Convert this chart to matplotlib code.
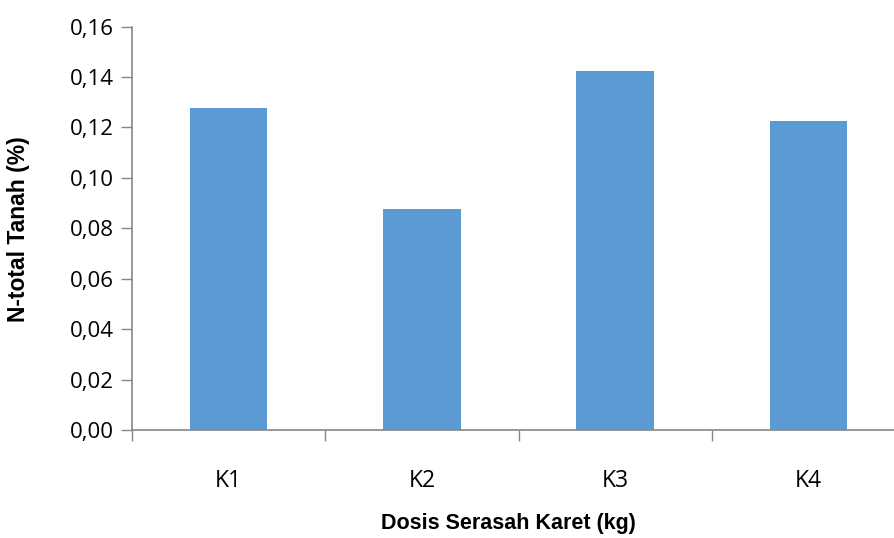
import matplotlib
matplotlib.use("Agg")
import matplotlib.pyplot as plt
from matplotlib.ticker import FixedLocator

categories = ["K1", "K2", "K3", "K4"]
values = [0.1275, 0.0875, 0.1425, 0.1225]
yticks = [0.00, 0.02, 0.04, 0.06, 0.08, 0.10, 0.12, 0.14, 0.16]
ytick_labels = ["0,00", "0,02", "0,04", "0,06", "0,08", "0,10", "0,12", "0,14", "0,16"]

W, H = 895, 538
fig = plt.figure(figsize=(W/100, H/100), dpi=100)
left, right, top, bottom = 132, 905, 26.5, 430
ax = fig.add_axes([left/W, 1-bottom/H, (right-left)/W, (bottom-top)/H])

x = list(range(len(categories)))
ax.bar(x, values, width=0.4, color="#5B9BD5", zorder=2)
ax.set_xlim(-0.5, 3.5)
ax.set_ylim(0, 0.16)

ax.set_yticks(yticks)
ax.set_yticklabels(ytick_labels)
ax.set_xticks(x)
ax.set_xticklabels(categories)
ax.xaxis.set_minor_locator(FixedLocator([-0.5, 0.5, 1.5, 2.5, 3.5]))

for s in ["top", "right"]:
    ax.spines[s].set_visible(False)
for s in ["left", "bottom"]:
    ax.spines[s].set_color("#868686")
    ax.spines[s].set_linewidth(1.2)

tickfont = "Open Sans"
ax.tick_params(axis="y", length=8, width=1, color="#868686", labelsize=16, pad=5, labelcolor="black")
ax.tick_params(axis="x", which="major", length=0, labelsize=16.5, pad=28, labelcolor="black")
ax.tick_params(axis="x", which="minor", length=8, width=1, color="#868686")
for lab in ax.get_yticklabels() + ax.get_xticklabels():
    lab.set_fontfamily(tickfont)

labfont = ["Liberation Sans Narrow", "Liberation Sans", "DejaVu Sans"]
fig.text(19/W, 1-229/H, "N-total Tanah (%)", fontsize=16.5, fontweight="bold",
         family=labfont, ha="center", va="center", rotation=90)
fig.text(508/W, 1-523/H, "Dosis Serasah Karet (kg)", fontsize=15.5, fontweight="bold",
         family=labfont, ha="center", va="center")

fig.savefig("out.png", dpi=100)
